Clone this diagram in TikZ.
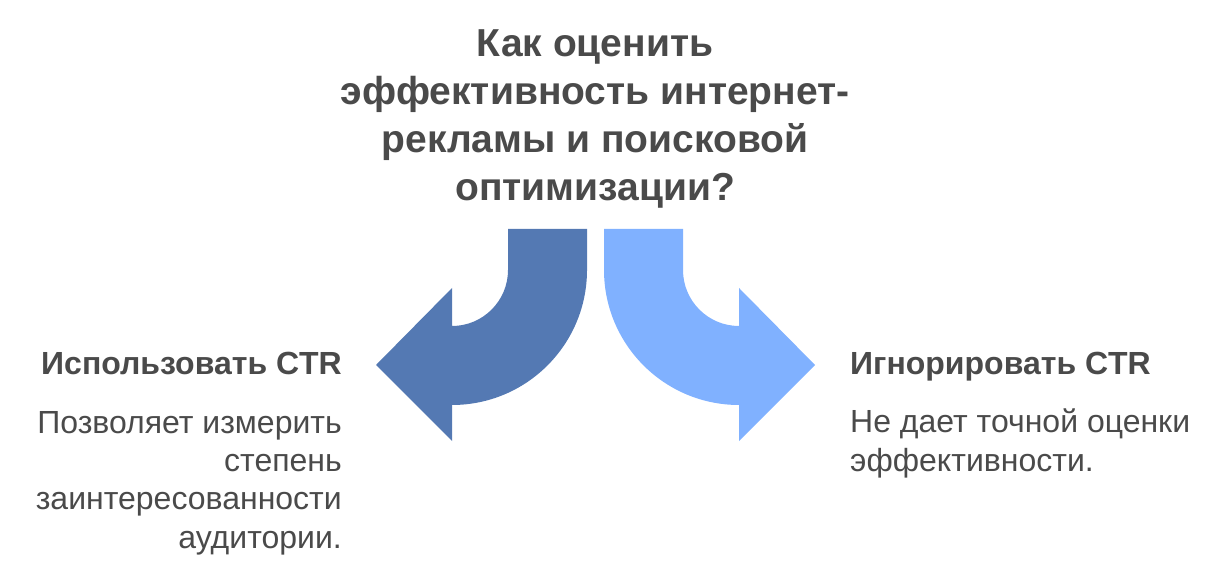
\documentclass[tikz,border=0pt]{standalone}
\usepackage{fontspec}
\setmainfont{Liberation Sans}
\usetikzlibrary{positioning}
\definecolor{darkarrow}{RGB}{84,121,179}
\definecolor{lightarrow}{RGB}{128,177,255}
\definecolor{textgray}{RGB}{74,74,74}
\tikzset{
  title/.style={align=center, inner sep=0pt, text=textgray, font=\fontsize{39}{48}\selectfont\bfseries},
  heading/.style={inner sep=0pt, text=textgray, font=\fontsize{32}{38}\selectfont\bfseries},
  body/.style={inner sep=0pt, text=textgray, font=\fontsize{32}{38.3}\selectfont}
}
\begin{document}
\begin{tikzpicture}[x=1pt, y=1pt]
        \useasboundingbox (0, 0) rectangle (1230, 576);

        % question on top, base is the last line
        \node [title, anchor=base] (question) at (595, 375)
          {Как оценить\\эффективность интернет-\\рекламы и поисковой\\оптимизации?};

        \begin{scope}
          \fill [darkarrow] (508, 347) -- (508, 306) arc (0:-90:56) -- (452, 288)
            -- (376, 211) -- (452, 135) -- (452, 171) arc (-90:0:135) -- (587, 347) -- cycle;
          \node [heading, anchor=base east] (use) at (342, 202) {Использовать CTR};
          \node [body, align=right, anchor=base east] (usetext) at (342, 28)
            {Позволяет измерить\\степень\\заинтересованности\\аудитории.};
        \end{scope}

        \begin{scope}
          \fill [lightarrow] (683, 347) -- (683, 306) arc (180:270:56) -- (739, 288)
            -- (815, 211) -- (739, 135) -- (739, 171) arc (270:180:135) -- (604, 347) -- cycle;
          \node [heading, anchor=base west] (ignore) at (850, 202) {Игнорировать CTR};
          \node [body, align=left, anchor=base west] (ignoretext) at (850, 105)
            {Не дает точной оценки\\эффективности.};
        \end{scope}
      \end{tikzpicture}
\end{document}
